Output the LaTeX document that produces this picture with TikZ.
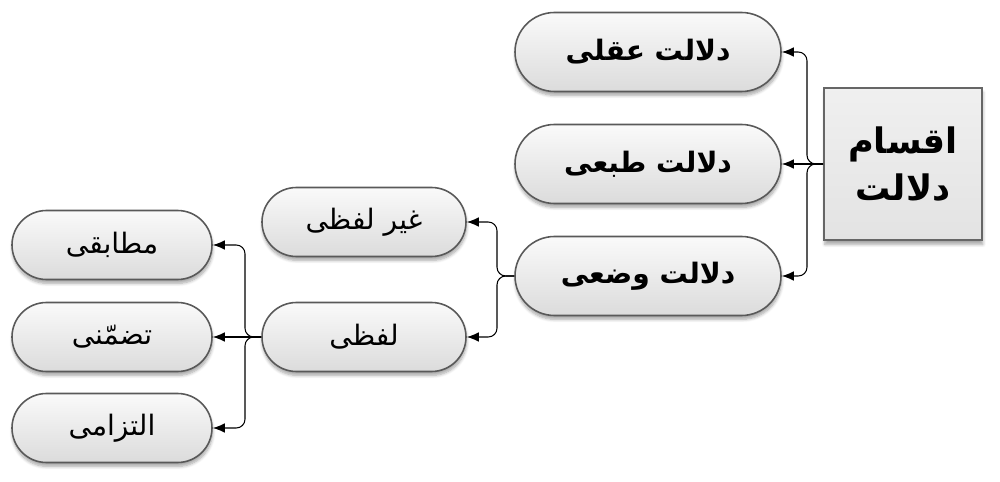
\documentclass[tikz,border=0pt]{standalone}
\usepackage{fontspec}
\newfontfamily\arabicfont[Script=Arabic]{DejaVu Sans}
\TeXXeTstate=1
\usetikzlibrary{arrows.meta,shapes.misc,shadows.blur}

\tikzset{
  pill/.style={rounded rectangle, draw=black!65, line width=0.9pt,
    top color=black!2, bottom color=black!14, inner sep=0pt,
    blur shadow={shadow xshift=0.3pt, shadow yshift=-2.2pt, shadow blur steps=6, shadow opacity=35},
    font=\arabicfont\fontsize{16}{19}\selectfont},
  bigpill/.style={pill, minimum width=5.32cm, minimum height=1.58cm,
    font=\arabicfont\bfseries\fontsize{16}{19}\selectfont},
  smallpill/.style={pill, minimum height=1.38cm},
  bigbox/.style={rectangle, draw=black!60, line width=0.9pt,
    top color=black!6, bottom color=black!11, inner sep=0pt,
    minimum width=3.16cm, minimum height=3.04cm, align=center,
    blur shadow={shadow xshift=0.5pt, shadow yshift=-2.5pt, shadow blur steps=6, shadow opacity=35},
    font=\arabicfont\bfseries\fontsize{20}{27}\selectfont},
  conn/.style={-{Latex[length=2.4mm,width=1.9mm]}, line width=0.6pt, rounded corners=5pt}
}

\begin{document}
\begin{tikzpicture}
            \useasboundingbox (0,0) rectangle (20,9.64);

            \node[bigbox] (Q) at (18.06,6.36) {\beginR اقسام\endR\\\beginR دلالت\endR};

            \node[bigpill] (A1) at (12.96,8.60) {\beginR دلالت عقلی\endR};
            \node[bigpill] (A2) at (12.96,6.36) {\beginR دلالت طبعی\endR};
            \node[bigpill] (A3) at (12.96,4.12) {\beginR دلالت وضعی\endR};

            \node[smallpill, minimum width=4.08cm] (B1) at (7.28,5.20) {\beginR غیر لفظی\endR};
            \node[smallpill, minimum width=4.08cm] (B2) at (7.28,2.90) {\beginR لفظی\endR};

            \node[smallpill, minimum width=4.0cm] (C1) at (2.24,4.74) {\beginR مطابقی\endR};
            \node[smallpill, minimum width=4.0cm] (C2) at (2.24,2.90) {\beginR تضمّنی\endR};
            \node[smallpill, minimum width=4.0cm] (C3) at (2.24,1.08) {\beginR التزامی\endR};

            \coordinate (T1) at (16.14,6.36);
            \coordinate (T2) at (9.94,4.12);
            \coordinate (T3) at (4.90,2.90);

            \draw[conn] (Q.west) -- (T1) |- (A1.east);
            \draw[conn] (Q.west) -- (A2.east);
            \draw[conn] (Q.west) -- (T1) |- (A3.east);

            \draw[conn] (A3.west) -- (T2) |- (B1.east);
            \draw[conn] (A3.west) -- (T2) |- (B2.east);

            \draw[conn] (B2.west) -- (T3) |- (C1.east);
            \draw[conn] (B2.west) -- (C2.east);
            \draw[conn] (B2.west) -- (T3) |- (C3.east);
        \end{tikzpicture}
\end{document}
